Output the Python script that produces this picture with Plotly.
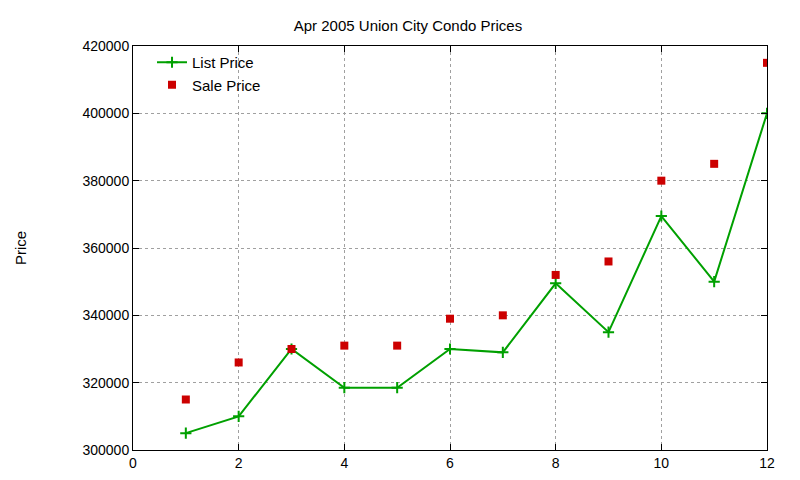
import plotly.graph_objects as go

months = [1, 2, 3, 4, 5, 6, 7, 8, 9, 10, 11, 12]
list_price = [305000, 310000, 330000, 318500, 318500, 330000, 329000, 349500, 335000, 369500, 350000, 400000]
sale_price = [315000, 326000, 330000, 331000, 331000, 339000, 340000, 352000, 356000, 380000, 385000, 415000]

fig = go.Figure()
fig.add_trace(go.Scatter(
    x=months, y=list_price, mode='lines+markers', name='List Price',
    line=dict(color='#00a000', width=2),
    marker=dict(symbol='cross-thin', size=8, line=dict(color='#00a000', width=2))
))
fig.add_trace(go.Scatter(
    x=months, y=sale_price, mode='markers', name='Sale Price',
    marker=dict(symbol='square', size=8, color='#cc0000')
))

axis_style = dict(
    showline=True, linecolor='black', linewidth=1, mirror='ticks',
    ticks='inside', ticklen=6, tickcolor='black',
    showgrid=True, gridcolor='#a0a0a0', griddash='dot', gridwidth=1,
    zeroline=False, tickfont=dict(size=14, color='black')
)

fig.update_xaxes(range=[0, 12], dtick=2, **axis_style)
fig.update_yaxes(range=[300000, 420000], dtick=20000, tickformat='d',
                 title=dict(text='Price', font=dict(size=15, color='black'), standoff=52),
                 **axis_style)

fig.update_layout(
    width=800, height=480,
    margin=dict(l=113, r=41, t=38, b=38),
    paper_bgcolor='white', plot_bgcolor='white',
    font=dict(family='Liberation Sans, Arial, sans-serif', color='black'),
    title=dict(text='Apr 2005 Union City Condo Prices', x=0.5, xanchor='center', y=0.975,
               font=dict(size=15, color='black')),
    legend=dict(x=0.03, y=1.0, xanchor='left', yanchor='top', bgcolor='rgba(0,0,0,0)',
                font=dict(size=15), tracegroupgap=0),
)

fig.write_html("out.html")
